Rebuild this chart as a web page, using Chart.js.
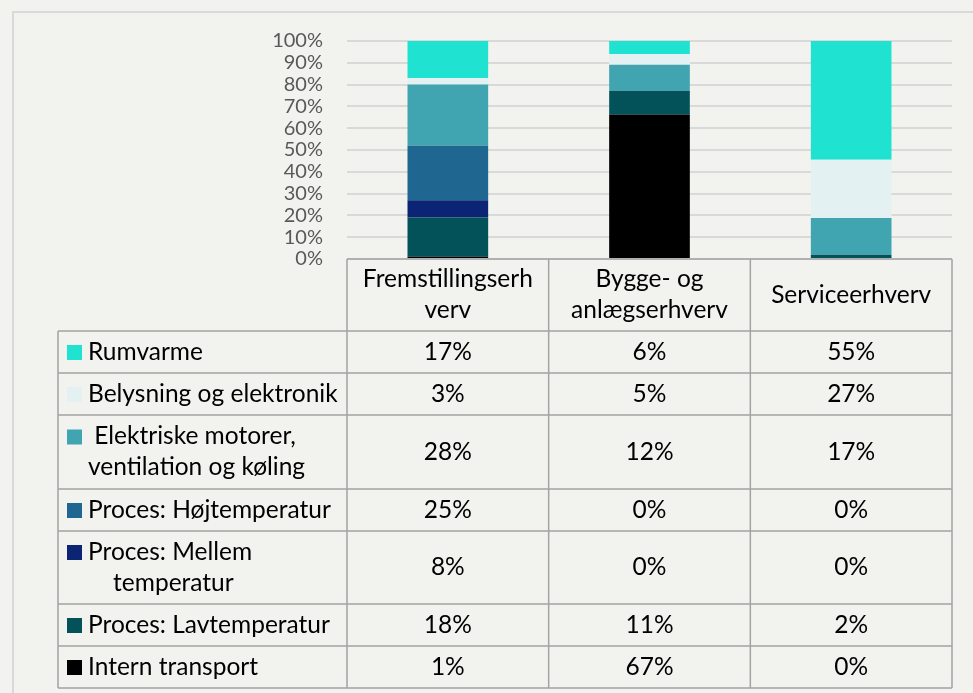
<!DOCTYPE html>
<html>
<head>
<meta charset="utf-8">
<script src="https://cdn.jsdelivr.net/npm/chart.js@4/dist/chart.umd.min.js"></script>
<style>
  html, body { margin: 0; padding: 0; background: #f2f2ee; overflow: hidden; }
  #wrap { position: relative; width: 973px; height: 693px; }
</style>
</head>
<body>
<div id="wrap"><canvas id="energyChart"></canvas></div>
<script>
// Kategorier (overskrifter i tabellen, delt i linjer)
const categories = [
    ['Fremstillingserh', 'verv'],
    ['Bygge- og', 'anlægserhverv'],
    ['Serviceerhverv']
];

// Serier, i tabellens rækkefølge (øverst -> nederst)
const seriesLabels = [
    ['Rumvarme'],
    ['Belysning og elektronik'],
    [' Elektriske motorer,', 'ventilation og køling'],
    ['Proces: Højtemperatur'],
    ['Proces: Mellem', '    temperatur'],
    ['Proces: Lavtemperatur'],
    ['Intern transport']
];
const rumvarme        = [17, 6, 55];
const belysning       = [3, 5, 27];
const elMotorer       = [28, 12, 17];
const hoejTemp        = [25, 0, 0];
const mellemTemp      = [8, 0, 0];
const lavTemp         = [18, 11, 2];
const internTransport = [1, 67, 0];
const seriesValues = [rumvarme, belysning, elMotorer, hoejTemp, mellemTemp, lavTemp, internTransport];

const yTicks = [0, 10, 20, 30, 40, 50, 60, 70, 80, 90, 100];

// farver
const seriesColors = ['#1fe3d0', '#e3f1f2', '#41a5b1', '#1f6690', '#0b2473', '#03525a', '#000000'];

// layout for tabellen
const FONT = 'Lato, "Open Sans", sans-serif';
const tableLeft = 58;
const headerBottom = 331;
const rowHeights = [42, 42, 74, 42, 73, 42, 42];
const lineGap = 31;

// 100% stablet: normaliser hver kolonne
const colSums = categories.map((_, i) => seriesValues.reduce((s, arr) => s + arr[i], 0));

// nederste serie først i stakken
const datasets = seriesValues.map((vals, k) => ({
    label: seriesLabels[k].join(' ').trim(),
    data: vals.map((v, i) => v / colSums[i] * 100),
    backgroundColor: seriesColors[k],
    borderWidth: 0,
    barPercentage: 0.4,
    categoryPercentage: 1.0
})).reverse();

const dataTablePlugin = {
    id: 'dataTable',
    afterDraw(chart) {
        const ctx = chart.ctx;
        const area = chart.chartArea;
        const xs = chart.scales.x;
        const colW = (area.right - area.left) / categories.length;

        ctx.save();
        // ramme om diagramområdet
        ctx.strokeStyle = '#d9d9d9';
        ctx.lineWidth = 2;
        ctx.beginPath();
        ctx.moveTo(13, chart.height);
        ctx.lineTo(13, 12);
        ctx.lineTo(chart.width, 12);
        ctx.stroke();

        // rækkegrænser
        const rowTops = [headerBottom];
        rowHeights.forEach(h => rowTops.push(rowTops[rowTops.length - 1] + h));
        const tableBottom = rowTops[rowTops.length - 1];

        ctx.strokeStyle = '#a3a3a3';
        ctx.lineWidth = 1.5;
        ctx.beginPath();
        // overskrift
        ctx.moveTo(area.left, area.bottom);
        ctx.lineTo(area.right, area.bottom);
        rowTops.forEach(y => {
            ctx.moveTo(tableLeft, y);
            ctx.lineTo(area.right, y);
        });
        ctx.moveTo(tableLeft, headerBottom);
        ctx.lineTo(tableLeft, tableBottom);
        for (let i = 0; i <= categories.length; i++) {
            const x = area.left + i * colW;
            ctx.moveTo(x, area.bottom);
            ctx.lineTo(x, tableBottom);
        }
        ctx.stroke();

        ctx.fillStyle = '#000';
        ctx.font = '24.5px ' + FONT;
        ctx.textBaseline = 'middle';

        // kolonneoverskrifter
        ctx.textAlign = 'center';
        const headMid = (area.bottom + headerBottom) / 2;
        categories.forEach((lines, i) => {
            const cx = xs.getPixelForValue(i);
            lines.forEach((t, j) => {
                ctx.fillText(t, cx, headMid + (j - (lines.length - 1) / 2) * lineGap);
            });
        });

        // rækker
        seriesLabels.forEach((lines, k) => {
            const top = rowTops[k];
            const mid = top + rowHeights[k] / 2;
            const firstY = mid - (lines.length - 1) / 2 * lineGap;
            ctx.fillStyle = seriesColors[k];
            ctx.fillRect(67, firstY - 7, 15, 15);
            ctx.fillStyle = '#000';
            ctx.textAlign = 'left';
            lines.forEach((t, j) => ctx.fillText(t, 88, firstY + j * lineGap));
            ctx.textAlign = 'center';
            seriesValues[k].forEach((v, i) => {
                ctx.fillText(v + '%', xs.getPixelForValue(i), mid);
            });
        });
        ctx.restore();
    }
};

const ctx = document.getElementById('energyChart').getContext('2d');
new Chart(ctx, {
    type: 'bar',
    data: {
        labels: categories.map(c => c.join('')),
        datasets: datasets
    },
    options: {
        responsive: true,
        maintainAspectRatio: false,
        animation: false,
        layout: { padding: { left: 0, top: 41, right: 21, bottom: 434 } },
        plugins: {
            legend: { display: false },
            tooltip: { enabled: false }
        },
        scales: {
            x: {
                display: false,
                stacked: true
            },
            y: {
                stacked: true,
                min: 0,
                max: 100,
                afterFit: scale => { scale.width = 347; },
                afterBuildTicks: scale => { scale.ticks = yTicks.map(v => ({ value: v })); },
                border: { display: false },
                grid: { color: '#d9d9d9', lineWidth: 2, drawTicks: false },
                ticks: {
                    padding: 24,
                    autoSkip: false,
                    color: '#595959',
                    font: { family: FONT, size: 20 },
                    callback: v => v + '%'
                }
            }
        }
    },
    plugins: [dataTablePlugin]
});
</script>
</body>
</html>
